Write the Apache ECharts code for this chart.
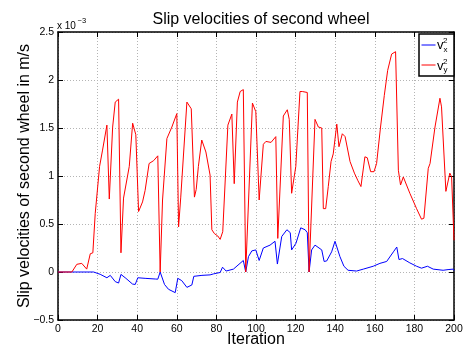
<!DOCTYPE html>
<html>
<head>
<meta charset="utf-8">
<script src="https://cdn.jsdelivr.net/npm/echarts@6/dist/echarts.min.js"></script>
<style>
  html, body { margin: 0; padding: 0; background: #fff; }
  #chart { width: 464px; height: 350px; }
</style>
</head>
<body>
<div id="chart"></div>
<script>
// Slip velocity components of the second wheel (values in units of 1e-3 m/s)
const iterX = [0, 18, 21.3, 24.7, 26.4, 28.9, 30.6, 31.8, 34.3, 37.6, 39, 40.3, 44, 49.1, 50.4, 51.6,
  53.8, 55.8, 59.2, 60.5, 62.5, 65.1, 67.6, 68.6, 72.7, 76.8, 78.5, 81.9, 83.1, 84.9, 88.6, 93.6, 94.8,
  96.2, 97.9, 99.9, 101.6, 103.7, 107.1, 109.6, 110.8, 113, 115.6, 117.3, 118, 120.2, 122.6, 124.8,
  125.9, 126.8, 128.1, 129.8, 133.2, 134.4, 135.7, 138.2, 139.9, 140.8, 142.4, 144.4, 146.5, 150.8,
  154.2, 159.2, 162.6, 166, 169.4, 171.1, 172.2, 174, 177.7, 181.1, 183.6, 186.6, 189.5, 194.5, 197,
  199.6, 200];
const velX = [0, 0, -0.024, -0.06, -0.035, -0.10, -0.115, -0.025, -0.066, -0.125, -0.13, -0.06, -0.066,
  -0.073, -0.075, 0, -0.13, -0.18, -0.215, -0.066, -0.09, -0.16, -0.135, -0.045, -0.035, -0.03, -0.02,
  -0.005, 0.05, 0.01, 0.03, 0.12, 0, 0.16, 0.22, 0.23, 0.12, 0.25, 0.28, 0.32, 0.083, 0.37, 0.44, 0.41,
  0.23, 0.30, 0.46, 0.44, 0.41, 0, 0.23, 0.28, 0.23, 0.11, 0.115, 0.21, 0.32, 0.31, 0.16, 0.06, 0.018,
  0.01, 0.03, 0.06, 0.09, 0.11, 0.21, 0.26, 0.13, 0.14, 0.095, 0.06, 0.04, 0.06, 0.03, 0.018, 0.025,
  0.03, 0.015];

const iterY = [0, 7, 9.5, 12, 14.5, 16.3, 17.6, 18.8, 21, 22.5, 24.7, 25.9, 27.6, 28.9, 30.6, 31.8, 33.1,
  34, 36, 37.7, 39.3, 40.7, 42.7, 44, 46, 48.3, 50.4, 51.6, 52.8, 55, 57.5, 60, 60.9, 62, 62.9, 65.1,
  67.3, 68.9, 69.8, 70.9, 72.6, 74.7, 76.8, 77.7, 79, 80.7, 81.9, 83.2, 85.8, 87.8, 89, 90.6, 92, 93.6,
  94.8, 98.2, 99.9, 101.6, 103.7, 105, 107.6, 110, 111, 113.8, 115.8, 116.8, 118, 120.1, 122.2, 123.4,
  125.9, 126.8, 129.8, 131.5, 133.2, 134, 135.2, 136.5, 137.9, 139, 140.8, 141.9, 143.6, 145, 147.5,
  149.7, 151.5, 153, 155, 156.2, 157.9, 159.6, 160.9, 162.9, 164.8, 166.5, 168.5, 170.5, 171.1, 171.9,
  173, 174.4, 177.7, 181.1, 183.6, 184.8, 187, 187.9, 190.4, 192.9, 193.7, 195.9, 197.9, 198.8, 200];
const velY = [0, 0, 0.08, 0.09, 0.03, 0.19, 0.2, 0.61, 1.10, 1.27, 1.53, 0.76, 1.51, 1.77, 1.80, 0.20,
  0.77, 0.77, 1.10, 1.55, 1.43, 0.63, 0.73, 0.85, 1.13, 1.16, 1.21, 0, 0.75, 1.39, 1.51, 1.65, 0.47,
  0.78, 0.80, 1.77, 1.70, 0.78, 0.86, 1.10, 1.375, 1.25, 1.01, 0.44, 0.40, 0.375, 0.34, 0.42, 1.53,
  1.645, 0.92, 1.77, 1.88, 1.90, 0, 1.76, 1.67, 0.75, 1.33, 1.36, 1.35, 1.41, 0.35, 1.625, 1.69, 1.59,
  0.82, 1.10, 1.88, 1.88, 1.87, 0, 1.59, 1.51, 1.50, 0.66, 0.66, 0.89, 1.15, 1.23, 1.54, 1.305, 1.44,
  1.41, 1.15, 1.03, 0.95, 0.89, 1.2, 1.19, 1.045, 1.045, 1.13, 1.51, 1.84, 2.10, 2.27, 2.295, 2.28,
  1.06, 0.906, 0.99, 0.82, 0.66, 0.55, 0.56, 1.08, 1.13, 1.51, 1.81, 1.72, 0.84, 1.03, 0.99, 0.33];

const xTicks = { min: 0, max: 200, step: 20 };
const yTicks = { min: -0.5, max: 2.5, step: 0.5 };

const FONT = '"Liberation Sans", Arial, Helvetica, sans-serif';
const INK = '#000';

const chart = echarts.init(document.getElementById('chart'), null, { renderer: 'canvas' });

const pairs = (xs, ys) => xs.map((x, i) => [x, ys[i]]);
const frameLine = { show: true, onZero: false, lineStyle: { color: INK, width: 1.5 } };
const inTick = { show: true, inside: true, length: 5, lineStyle: { color: INK, width: 1 } };
const dotGrid = { show: true, lineStyle: { color: '#b4b4b4', width: 1, type: [1, 2] } };

chart.setOption({
  animation: false,
  backgroundColor: '#fff',
  title: {
    text: 'Slip velocities of second wheel',
    left: 256, top: 7, textAlign: 'center',
    textStyle: { fontFamily: FONT, fontSize: 16, fontWeight: 'normal', color: INK }
  },
  grid: { left: 58, right: 10, top: 32, bottom: 30, containLabel: false, outerBoundsMode: 'none' },
  legend: {
    orient: 'vertical', left: 419, top: 34,
    padding: [6, 18, 7, 2],
    itemWidth: 14, itemHeight: 10, itemGap: 11,
    borderColor: INK, borderWidth: 1.5, backgroundColor: '#fff',
    itemStyle: { opacity: 0 },
    lineStyle: { width: 1 },
    formatter: () => '',
    data: ['vx', 'vy']
  },
  xAxis: [{
    type: 'value', position: 'bottom',
    min: xTicks.min, max: xTicks.max, interval: xTicks.step,
    axisLine: frameLine, axisTick: inTick, splitLine: dotGrid,
    axisLabel: { color: INK, fontFamily: FONT, fontSize: 10.5, margin: 4 }
  }, {
    type: 'value', position: 'top',
    min: xTicks.min, max: xTicks.max, interval: xTicks.step,
    axisLine: frameLine, axisTick: inTick, splitLine: { show: false },
    axisLabel: { show: false }
  }],
  yAxis: [{
    type: 'value', position: 'left',
    min: yTicks.min, max: yTicks.max, interval: yTicks.step,
    axisLine: frameLine, axisTick: inTick, splitLine: dotGrid,
    axisLabel: {
      color: INK, fontFamily: FONT, fontSize: 10.5, margin: 4,
      formatter: v => String(v).replace('-', '\u2212')
    }
  }, {
    type: 'value', position: 'right',
    min: yTicks.min, max: yTicks.max, interval: yTicks.step,
    axisLine: frameLine, axisTick: inTick, splitLine: { show: false },
    axisLabel: { show: false }
  }],
  series: [{
    name: 'vx', type: 'line', data: pairs(iterX, velX),
    symbol: 'none', color: '#0000ff',
    lineStyle: { color: '#0000ff', width: 1 }, z: 2
  }, {
    name: 'vy', type: 'line', data: pairs(iterY, velY),
    symbol: 'none', color: '#ff0000',
    lineStyle: { color: '#ff0000', width: 1 }, z: 3
  }],
  graphic: [
    // axis titles
    { type: 'text', x: 256, y: 340, z: 10,
      style: { text: 'Iteration', font: '16px ' + FONT, fill: INK, align: 'center', verticalAlign: 'middle' } },
    { type: 'text', x: 24.5, y: 176, rotation: Math.PI / 2, z: 10,
      style: { text: 'Slip velocities of second wheel in m/s', font: '16px ' + FONT, fill: INK,
               align: 'center', verticalAlign: 'middle' } },
    // axis exponent
    { type: 'text', left: 57, top: 21, z: 10,
      style: { text: 'x 10', font: '10px ' + FONT, fill: INK } },
    { type: 'text', left: 77.5, top: 17, z: 10,
      style: { text: '\u22123', font: '7.5px ' + FONT, fill: INK } },
    // legend labels: v with superscript wheel index and subscript component
    { type: 'text', x: 437, y: 45.5, z: 100,
      style: { text: 'v', font: '13px ' + FONT, fill: INK, verticalAlign: 'middle' } },
    { type: 'text', x: 443, y: 40.8, z: 100,
      style: { text: '2', font: '8px ' + FONT, fill: INK, verticalAlign: 'middle' } },
    { type: 'text', x: 443.5, y: 49.5, z: 100,
      style: { text: 'x', font: '8px ' + FONT, fill: INK, verticalAlign: 'middle' } },
    { type: 'text', x: 437, y: 66.3, z: 100,
      style: { text: 'v', font: '13px ' + FONT, fill: INK, verticalAlign: 'middle' } },
    { type: 'text', x: 443, y: 61.8, z: 100,
      style: { text: '2', font: '8px ' + FONT, fill: INK, verticalAlign: 'middle' } },
    { type: 'text', x: 443.5, y: 70, z: 100,
      style: { text: 'y', font: '8px ' + FONT, fill: INK, verticalAlign: 'middle' } }
  ]
});
</script>
</body>
</html>
